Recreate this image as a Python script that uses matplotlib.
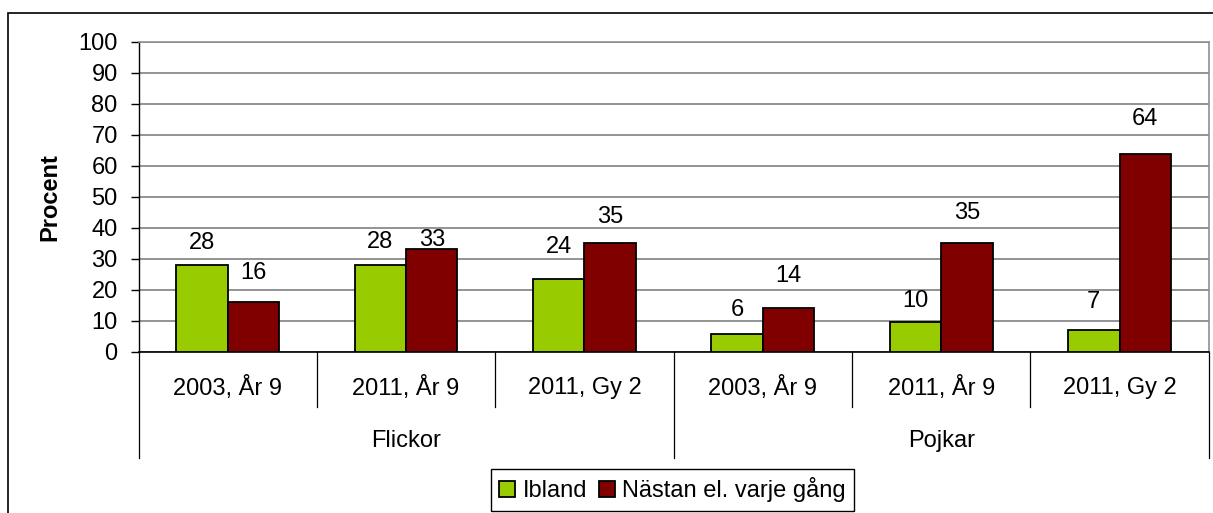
import matplotlib
matplotlib.use("Agg")
import matplotlib.pyplot as plt
from matplotlib.patches import Rectangle
from matplotlib.transforms import blended_transform_factory
import numpy as np

categories = ["2003, År 9", "2011, År 9", "2011, Gy 2", "2003, År 9", "2011, År 9", "2011, Gy 2"]
groups = ["Flickor", "Pojkar"]
series_names = ["Ibland", "Nästan el. varje gång"]
ibland = [28.0, 28.0, 23.6, 5.8, 9.6, 7.1]
nastan = [16.2, 33.1, 35.1, 14.3, 35.1, 63.9]
yticks = [0, 10, 20, 30, 40, 50, 60, 70, 80, 90, 100]

# per-label vertical offsets (points) as placed in the original
off_ibland = [16, 17, 23, 17, 15, 20]
off_nastan = [21, 7, 19, 23, 22, 25]

W, H = 1213, 513
fig = plt.figure(figsize=(W / 100, H / 100), dpi=100)
plt.rcParams['font.family'] = ['Liberation Sans', 'DejaVu Sans']
FS = 17

# outer border
fig.patches.append(Rectangle((8 / W, 0 - 0.01), 1.02, 1 - 13 / H + 0.01, transform=fig.transFigure,
                             fill=False, edgecolor='black', linewidth=1.2))

left, right, top, bottom = 138.5, 1208.7, 41.7, 352.0
ax = fig.add_axes([left / W, 1 - bottom / H, (right - left) / W, (bottom - top) / H])

green = '#99CC00'
red = '#800000'
n = len(categories)
x = np.arange(n) + 0.5
bw = 0.288
b1 = ax.bar(x - bw / 2, ibland, bw, color=green, edgecolor='black', linewidth=1.3, zorder=3, label=series_names[0])
b2 = ax.bar(x + bw / 2, nastan, bw, color=red, edgecolor='black', linewidth=1.3, zorder=3, label=series_names[1])

for xi, v, o in zip(x - bw / 2, ibland, off_ibland):
    ax.annotate(f"{round(v):d}", (xi, v), xytext=(0, o), textcoords='offset points',
                ha='center', va='center', fontsize=FS)
for xi, v, o in zip(x + bw / 2, nastan, off_nastan):
    ax.annotate(f"{round(v):d}", (xi, v), xytext=(0, o), textcoords='offset points',
                ha='center', va='center', fontsize=FS)

ax.set_xlim(0, n)
ax.set_ylim(0, 100)
ax.set_yticks(yticks)
ax.set_yticklabels([str(t) for t in yticks], fontsize=FS)
ax.tick_params(axis='y', length=6, width=1, pad=9, color='black')
ax.set_xticks([])
ax.yaxis.grid(True, color='#808080', linewidth=1.2, zorder=0)
ax.set_axisbelow(True)
for s in ['top', 'right']:
    ax.spines[s].set_color('#909090')
    ax.spines[s].set_linewidth(1.2)
ax.spines['left'].set_color('black')
ax.spines['bottom'].set_color('black')
ax.spines['left'].set_linewidth(1.0)
ax.spines['bottom'].set_linewidth(1.2)
ax.set_ylabel("Procent", fontsize=FS, fontweight='bold')
ax.yaxis.set_label_coords(-(left - 61) / (right - left), 0.5)

# multi-level category axis
ph = bottom - top
tr = blended_transform_factory(ax.transData, ax.transAxes)
y_cat = -(407 - bottom) / ph
y_grp = -(458 - bottom) / ph
for i in range(n + 1):
    yend = y_grp if i % 3 == 0 else y_cat
    ax.plot([i, i], [0, yend], transform=tr, color='black', linewidth=0.9, clip_on=False)
for xi, c in zip(x, categories):
    ax.text(xi, -(388 - bottom) / ph, c, transform=tr, ha='center', va='center', fontsize=FS)
for gi, g in enumerate(groups):
    ax.text(gi * 3 + 1.5, -(441 - bottom) / ph, g, transform=tr, ha='center', va='center', fontsize=FS)

leg = fig.legend(handles=[b1, b2], labels=series_names, loc='center',
                 bbox_to_anchor=(672.5 / W, 1 - 490 / H), ncol=2, fontsize=FS,
                 frameon=True, fancybox=False, edgecolor='black', framealpha=1,
                 handlelength=0.7, handleheight=0.7, handletextpad=0.3,
                 columnspacing=0.5, borderpad=0.35, borderaxespad=0)
leg.get_frame().set_linewidth(1.0)

fig.savefig("out.png", dpi=100)
